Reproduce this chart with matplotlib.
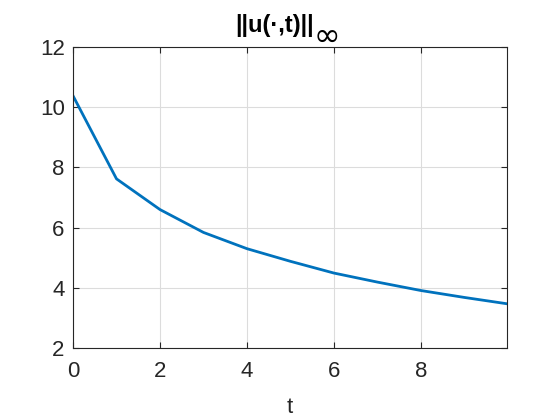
import matplotlib
matplotlib.use('Agg')
import matplotlib.pyplot as plt

# sup-norm of the solution at the integer knots
t = [0, 1, 2, 3, 4, 5, 6, 7, 8, 9, 9.98]
u_inf = [10.38, 7.62, 6.60, 5.84, 5.30, 4.88, 4.49, 4.19, 3.91, 3.68, 3.47]
x_ticks = [0, 2, 4, 6, 8]
y_ticks = [2, 4, 6, 8, 10, 12]

plt.rcParams['font.family'] = ['Liberation Sans', 'DejaVu Sans']
text_col = (0.15, 0.15, 0.15)

fig = plt.figure(figsize=(5.6, 4.2), dpi=100)
ax = fig.add_axes([0.1304, 0.1714, 0.775, 0.7166])

ax.plot(t, u_inf, color='#0072BD', linewidth=2)

ax.set_xlim(0, 9.98)
ax.set_ylim(2, 12)
ax.set_xticks(x_ticks)
ax.set_yticks(y_ticks)
ax.grid(True, color='#dcdcdc', linewidth=0.8)
ax.set_axisbelow(True)

ax.tick_params(direction='in', length=4, width=0.8, top=True, right=True,
               labelsize=16, colors=text_col, pad=6)
ax.tick_params(axis='x', pad=9)
for sp in ax.spines.values():
    sp.set_color(text_col)
    sp.set_linewidth(0.8)

ax.set_xlabel('t', fontsize=16, color=text_col, labelpad=11)

# title built in two pieces so the subscript infinity stays big like MATLAB's
fig.text(0.490, 0.940, '||u(·,t)||', fontsize=17, fontweight='bold',
         color='black', ha='center', va='center')
fig.text(0.5834, 0.9107, '∞', fontsize=23, family='DejaVu Sans',
         color='black', ha='center', va='center')

fig.savefig('out.png', dpi=100)
